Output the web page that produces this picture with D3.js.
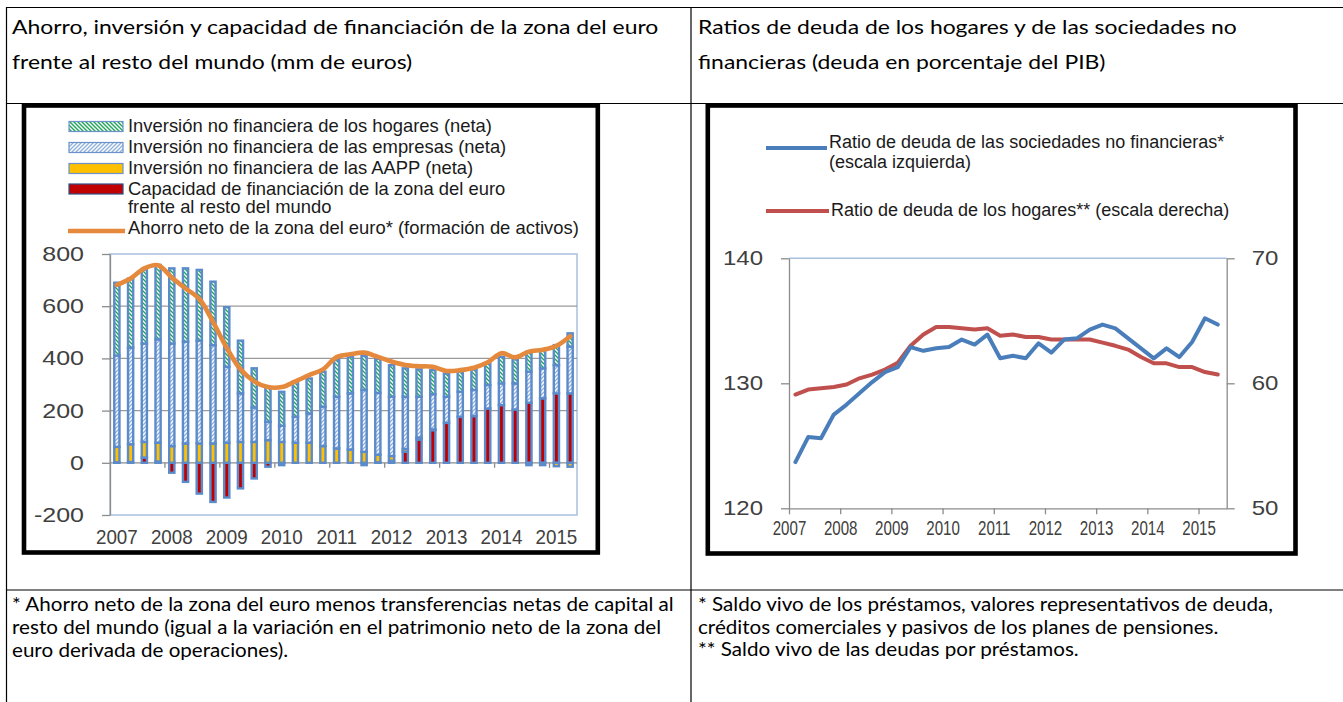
<!DOCTYPE html>
<html>
<head>
<meta charset="utf-8">
<script src="https://cdn.jsdelivr.net/npm/d3@7"></script>
<style>
html, body { margin: 0; padding: 0; background: #fff; }
svg { display: block; }
</style>
</head>
<body>
<svg id="page" width="1343" height="702"></svg>
<script>
// --- categories ---
const quarters = [
    '2007T1','2007T2','2007T3','2007T4','2008T1','2008T2','2008T3','2008T4',
    '2009T1','2009T2','2009T3','2009T4','2010T1','2010T2','2010T3','2010T4',
    '2011T1','2011T2','2011T3','2011T4','2012T1','2012T2','2012T3','2012T4',
    '2013T1','2013T2','2013T3','2013T4','2014T1','2014T2','2014T3','2014T4',
    '2015T1','2015T2'
];
const yearLabels = ['2007','2008','2009','2010','2011','2012','2013','2014','2015'];

// --- left chart: mm de euros ---
const hogares    = [279,265,284,285,288,281,271,243,228,202,150,132,130,135,134,134,141,140,130,130,121,109,105,92,89,77,79,83,102,92,76,72,77,51];
const empresas   = [350,370,377,396,393,390,394,377,291,186,132,70,62,99,112,151,198,215,237,237,227,200,156,135,100,96,100,90,83,100,119,115,108,179];
const aapp       = [59,68,60,72,64,74,74,74,77,80,80,87,80,77,77,64,55,51,42,29,18,11,8,3,0,0,0,0,0,0,-9,-9,-13,-15];
const capacidad  = [2,3,20,5,-38,-73,-118,-150,-133,-98,-60,-15,-9,0,0,0,0,0,-9,2,8,42,89,125,153,176,179,208,221,204,230,247,266,266];
const ahorroNeto = [682,706,745,757,710,668,628,540,440,358,312,290,290,312,336,358,405,416,422,406,388,375,370,368,352,355,364,385,420,404,426,433,448,485];
const yTicksLeft = [-200, 0, 200, 400, 600, 800];

// --- right chart: % del PIB ---
const deudaSNF     = [123.7,125.7,125.6,127.5,128.3,129.2,130.1,130.9,131.3,132.9,132.6,132.8,132.9,133.5,133.1,133.9,132.0,132.2,132.0,133.2,132.45,133.5,133.6,134.3,134.7,134.4,133.6,132.8,132.0,132.8,132.1,133.3,135.2,134.7];
const deudaHogares = [59.1,59.5,59.6,59.7,59.9,60.4,60.7,61.1,61.65,63.0,63.9,64.5,64.5,64.4,64.3,64.4,63.8,63.9,63.7,63.7,63.5,63.5,63.5,63.5,63.25,63.0,62.7,62.1,61.6,61.6,61.3,61.3,60.9,60.7];
const yTicksRightL = [120, 130, 140];
const yTicksRightR = [50, 60, 70];

const svg = d3.select('#page');
const chartFont = '"Liberation Sans", Arial, sans-serif';
const docFont = 'Lato, "Open Sans", sans-serif';
const tickColor = '#404040';
const axisGray = '#8c8c8c';
const frameBlue = '#a7c0de';

// squeeze/stretch tick labels horizontally (the source image is not uniformly scaled)
function scaleTicks(g, sx, gap, side) {
    g.selectAll('.tick text').each(function() {
        const t = d3.select(this);
        if (side === 'left') t.attr('x', -gap / sx);
        if (side === 'right') t.attr('x', gap / sx);
        t.attr('transform', `scale(${sx},1)`);
    });
}

// block of lines at a given size, squeezed horizontally so the first line is refWidth wide
function textBlock(lines, x, ys, size, refWidth, sx) {
    const g = svg.append('g');
    const texts = g.selectAll('text')
        .data(lines)
        .enter()
        .append('text')
        .attr('x', 0)
        .attr('y', (d, i) => ys[i])
        .attr('dy', '0.35em')
        .style('font-family', docFont)
        .style('font-size', `${size}px`)
        .style('fill', '#000')
        .text(d => d);
    if (!sx) sx = refWidth / texts.node().getComputedTextLength();
    g.attr('transform', `translate(${x},0) scale(${sx},1)`);
    return sx;
}

// ---------- table ----------
const table = svg.append('g').attr('stroke', '#000').attr('stroke-width', 1.2);
table.append('line').attr('x1', 6).attr('x2', 1350).attr('y1', 7.5).attr('y2', 7.5);
table.append('line').attr('x1', 6.5).attr('x2', 6.5).attr('y1', 7).attr('y2', 702);
table.append('line').attr('x1', 691).attr('x2', 691).attr('y1', 7).attr('y2', 702);
table.append('line').attr('x1', 6).attr('x2', 1350).attr('y1', 103.5).attr('y2', 103.5);
table.append('line').attr('x1', 6).attr('x2', 1350).attr('y1', 590).attr('y2', 590);

const headScale = textBlock(['Ahorro, inversión y capacidad de financiación de la zona del euro',
           'frente al resto del mundo (mm de euros)'], 12, [27, 62], 19.5, 647);
textBlock(['Ratios de deuda de los hogares y de las sociedades no',
           'financieras (deuda en porcentaje del PIB)'], 698, [27, 62], 19.5, 0, headScale);
const noteScale = textBlock(['* Ahorro neto de la zona del euro menos transferencias netas de capital al',
           'resto del mundo (igual a la variación en el patrimonio neto de la zona del',
           'euro derivada de operaciones).'], 12, [604, 627, 650], 19, 662);
textBlock(['* Saldo vivo de los préstamos, valores representativos de deuda,',
           'créditos comerciales y pasivos de los planes de pensiones.',
           '** Saldo vivo de las deudas por préstamos.'], 698, [604, 627, 649], 19, 0, noteScale);

// ---------- patterns ----------
const defs = svg.append('defs');
const pHog = defs.append('pattern').attr('id', 'pHog')
    .attr('patternUnits', 'userSpaceOnUse').attr('width', 4).attr('height', 4);
pHog.append('rect').attr('width', 4).attr('height', 4).attr('fill', '#fff');
pHog.append('path').attr('d', 'M-1,-1L5,5M-1,3L1,5M3,-1L5,1')
    .attr('stroke', '#1ea55a').attr('stroke-width', 1.4);

const pEmp = defs.append('pattern').attr('id', 'pEmp')
    .attr('patternUnits', 'userSpaceOnUse').attr('width', 4).attr('height', 4);
pEmp.append('rect').attr('width', 4).attr('height', 4).attr('fill', '#fff');
pEmp.append('path').attr('d', 'M-1,5L5,-1M-1,1L1,-1M3,5L5,3')
    .attr('stroke', '#8fb1dc').attr('stroke-width', 1.4);

const seriesFill = { hog: 'url(#pHog)', emp: 'url(#pEmp)', aapp: '#ffc000', cap: '#c00000' };

// ---------- left chart ----------
const L = { left: 110, right: 577, top: 254, bottom: 515 };
svg.append('rect').attr('x', 24).attr('y', 105.5).attr('width', 573.8).attr('height', 447)
    .attr('fill', 'none').attr('stroke', '#000').attr('stroke-width', 4.6);

const xL = d3.scaleBand().domain(quarters).range([L.left, L.right]);
const yL = d3.scaleLinear().domain([-200, 800]).range([L.bottom, L.top]);
const bw = xL.bandwidth();

const left = svg.append('g');
left.append('rect').attr('x', L.left).attr('y', L.top)
    .attr('width', L.right - L.left).attr('height', L.bottom - L.top)
    .attr('fill', 'none').attr('stroke', frameBlue).attr('stroke-width', 1.5);

left.selectAll('.grid')
    .data([200, 400, 600])
    .enter()
    .append('line')
    .attr('x1', L.left).attr('x2', L.right)
    .attr('y1', d => yL(d)).attr('y2', d => yL(d))
    .attr('stroke', '#9a9a9a').attr('stroke-width', 1.3);

const yAxisL = left.append('g')
    .attr('transform', `translate(${L.left},0)`)
    .call(d3.axisLeft(yL).tickValues(yTicksLeft).tickFormat(d => String(d))
        .tickSize(8).tickSizeOuter(0));
yAxisL.select('.domain').attr('stroke', axisGray).attr('stroke-width', 1.3);
yAxisL.selectAll('.tick line').attr('stroke', axisGray).attr('stroke-width', 1.3);
yAxisL.selectAll('.tick text')
    .style('font-family', chartFont).style('font-size', '20px').style('fill', tickColor);
scaleTicks(yAxisL, 1.25, 26, 'left');

// category axis on the zero line
const zeroY = yL(0);
left.append('line').attr('x1', L.left).attr('x2', L.right)
    .attr('y1', zeroY).attr('y2', zeroY)
    .attr('stroke', axisGray).attr('stroke-width', 1.3);
left.selectAll('.ytick')
    .data(quarters.filter((q, i) => i > 0 && q.endsWith('T1')))
    .enter()
    .append('line')
    .attr('x1', d => xL(d)).attr('x2', d => xL(d))
    .attr('y1', zeroY).attr('y2', zeroY + 5)
    .attr('stroke', axisGray).attr('stroke-width', 1.3);

const xAxisL = left.append('g')
    .attr('transform', `translate(0,${L.bottom})`)
    .call(d3.axisBottom(xL)
        .tickValues(quarters.filter(q => q.endsWith('T1')))
        .tickFormat(q => q.slice(0, 4))
        .tickSize(0).tickPadding(15));
xAxisL.select('.domain').remove();
xAxisL.selectAll('.tick text')
    .style('font-family', chartFont).style('font-size', '20px').style('fill', tickColor);
scaleTicks(xAxisL, 0.94, 0, 'none');

// stacked columns (negative values stack downward, Excel style)
const rows = quarters.map((q, i) => ({
    q: q, cap: capacidad[i], aapp: aapp[i], emp: empresas[i], hog: hogares[i]
}));
const stacked = d3.stack()
    .keys(['cap', 'aapp', 'emp', 'hog'])
    .offset(d3.stackOffsetDiverging)(rows);

const barW = 5.2;
left.selectAll('.layer')
    .data(stacked)
    .enter()
    .append('g')
    .attr('class', 'layer')
    .attr('fill', s => seriesFill[s.key])
    .selectAll('rect')
    .data(s => s.filter(d => Math.abs(d[1] - d[0]) > 0.5))
    .enter()
    .append('rect')
    .attr('x', d => xL(d.data.q) + (bw - barW) / 2)
    .attr('y', d => yL(Math.max(d[0], d[1])))
    .attr('width', barW)
    .attr('height', d => Math.abs(yL(d[0]) - yL(d[1])))
    .attr('stroke', '#5b8bcb')
    .attr('stroke-width', 2.4);

const ahorroLine = d3.line()
    .x((d, i) => xL(quarters[i]) + bw / 2)
    .y(d => yL(d))
    .curve(d3.curveCatmullRom.alpha(0.5));
left.append('path')
    .datum(ahorroNeto)
    .attr('d', ahorroLine)
    .attr('fill', 'none')
    .attr('stroke', '#e5893d')
    .attr('stroke-width', 4.6)
    .attr('stroke-linejoin', 'round')
    .attr('stroke-linecap', 'round');

// legend
const legendL = [
    { key: 'hog', lines: ['Inversión no financiera de los hogares (neta)'], y: 126 },
    { key: 'emp', lines: ['Inversión no financiera de las empresas (neta)'], y: 147 },
    { key: 'aapp', lines: ['Inversión no financiera de las AAPP (neta)'], y: 168 },
    { key: 'cap', lines: ['Capacidad de financiación de la zona del euro', 'frente al resto del mundo'], y: 188.5 },
    { key: 'line', lines: ['Ahorro neto de la zona del euro* (formación de activos)'], y: 228 }
];
const legL = left.append('g');
legendL.forEach(item => {
    if (item.key === 'line') {
        legL.append('line').attr('x1', 68).attr('x2', 125)
            .attr('y1', item.y + 3).attr('y2', item.y + 3)
            .attr('stroke', '#e5893d').attr('stroke-width', 4.5);
    } else {
        legL.append('rect').attr('x', 69).attr('y', item.y - 4.5)
            .attr('width', 54).attr('height', 10)
            .attr('fill', seriesFill[item.key])
            .attr('stroke', item.key === 'cap' ? '#2f4f8a' : '#6b93c9')
            .attr('stroke-width', 1.2);
    }
    // one text element per entry, extra lines as tspans
    const txt = legL.append('text')
        .attr('y', item.y)
        .style('font-family', chartFont).style('font-size', '18.4px').style('fill', '#1a1a1a');
    item.lines.forEach((t, j) => {
        txt.append('tspan')
            .attr('x', 128)
            .attr('dy', j === 0 ? '0.35em' : '18.5px')
            .text(t);
    });
});

// ---------- right chart ----------
const R = { left: 789, right: 1226.7, top: 258.3, bottom: 508.3 };
svg.append('rect').attr('x', 707.8).attr('y', 105.5).attr('width', 587.7).attr('height', 448)
    .attr('fill', 'none').attr('stroke', '#000').attr('stroke-width', 4.6);

const fechas = quarters.map(q => +q.slice(0, 4) + (+q.slice(-1) - 0.5) / 4);
const xR = d3.scaleLinear().domain([2007, 2015.55]).range([R.left, R.right]);
const yRL = d3.scaleLinear().domain([120, 140]).range([R.bottom, R.top]);
const yRR = d3.scaleLinear().domain([50, 70]).range([R.bottom, R.top]);

const right = svg.append('g');
right.append('line').attr('x1', R.left).attr('x2', R.right)
    .attr('y1', R.top).attr('y2', R.top)
    .attr('stroke', frameBlue).attr('stroke-width', 1.5);

const yAxisRL = right.append('g')
    .attr('transform', `translate(${R.left},0)`)
    .call(d3.axisLeft(yRL).tickValues(yTicksRightL).tickSize(8).tickSizeOuter(0));
const yAxisRR = right.append('g')
    .attr('transform', `translate(${R.right},0)`)
    .call(d3.axisRight(yRR).tickValues(yTicksRightR).tickSize(8).tickSizeOuter(0));
const xAxisR = right.append('g')
    .attr('transform', `translate(0,${R.bottom})`)
    .call(d3.axisBottom(xR).tickValues(yearLabels.map(Number))
        .tickFormat(d3.format('d')).tickSize(6).tickSizeOuter(0).tickPadding(6));

[yAxisRL, yAxisRR, xAxisR].forEach(a => {
    a.select('.domain').attr('stroke', axisGray).attr('stroke-width', 1.3);
    a.selectAll('.tick line').attr('stroke', axisGray).attr('stroke-width', 1.3);
    a.selectAll('.tick text')
        .style('font-family', chartFont).style('font-size', '20px').style('fill', tickColor);
});
xAxisR.selectAll('.tick text').style('font-size', '21px');
scaleTicks(yAxisRL, 1.2, 26, 'left');
scaleTicks(yAxisRR, 1.2, 25, 'right');
scaleTicks(xAxisR, 0.72, 0, 'none');

const lineSNF = d3.line().x((d, i) => xR(fechas[i])).y(d => yRL(d));
const lineHog = d3.line().x((d, i) => xR(fechas[i])).y(d => yRR(d));

right.append('path').datum(deudaHogares).attr('d', lineHog)
    .attr('fill', 'none').attr('stroke', '#c0504d').attr('stroke-width', 4)
    .attr('stroke-linejoin', 'round').attr('stroke-linecap', 'round');
right.append('path').datum(deudaSNF).attr('d', lineSNF)
    .attr('fill', 'none').attr('stroke', '#4a7ebb').attr('stroke-width', 4)
    .attr('stroke-linejoin', 'round').attr('stroke-linecap', 'round');

// legend
const legR = right.append('g');
legR.append('line').attr('x1', 766).attr('x2', 827).attr('y1', 148).attr('y2', 148)
    .attr('stroke', '#4a7ebb').attr('stroke-width', 4);
legR.append('line').attr('x1', 766).attr('x2', 829).attr('y1', 211).attr('y2', 211)
    .attr('stroke', '#c0504d').attr('stroke-width', 4);
const legRText = legR.append('text')
    .attr('y', 142)
    .style('font-family', chartFont).style('font-size', '18px').style('fill', '#1a1a1a');
legRText.append('tspan').attr('x', 829).attr('dy', '0.35em')
    .text('Ratio de deuda de las sociedades no financieras*');
legRText.append('tspan').attr('x', 829).attr('dy', '20px')
    .text('(escala izquierda)');
legR.append('text').attr('x', 831).attr('y', 210).attr('dy', '0.35em')
    .style('font-family', chartFont).style('font-size', '18px').style('fill', '#1a1a1a')
    .text('Ratio de deuda de los hogares** (escala derecha)');
</script>
</body>
</html>
